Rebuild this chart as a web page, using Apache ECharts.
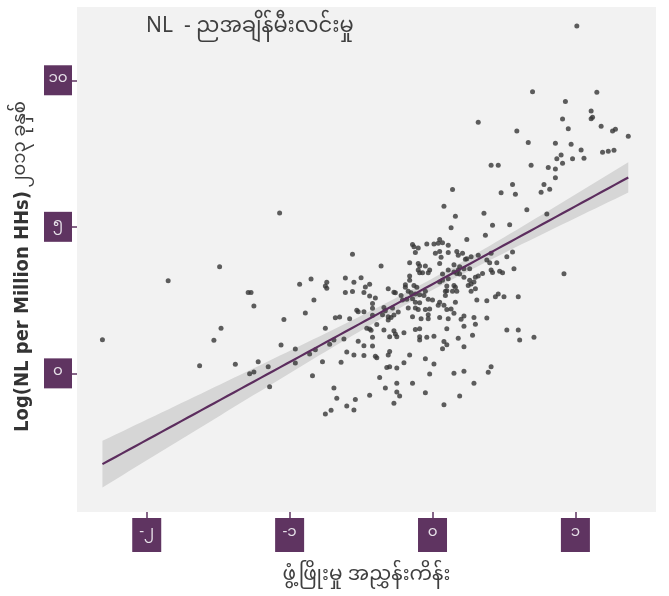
<!DOCTYPE html>
<html>
<head>
<meta charset="utf-8">
<script src="https://cdn.jsdelivr.net/npm/echarts@6/dist/echarts.min.js"></script>
<style>
  html, body { margin: 0; padding: 0; background: #ffffff; }
  #chart { width: 669px; height: 596px; }
</style>
</head>
<body>
<div id="chart"></div>
<script>
// Development index (x) for each township
const developmentIndex = [
  -1.07,-0.56,-1.49,-1.85,-1.29,-1.27,-1.25,-2.31,-1.48,-1.53,
  -1.63,-1.38,-1.22,-1.28,-1.25,-1.15,-1.14,-1.06,-1.04,-0.93,
  -0.85,-0.74,-0.75,-0.74,-0.83,-0.89,-0.96,-0.96,-0.86,-0.82,
  -0.84,-0.77,-0.75,-0.72,-0.69,-0.68,-0.65,-0.61,-0.55,-0.50,
  -0.47,-0.44,-0.61,-0.56,-0.48,-0.44,-0.58,-0.53,-0.52,-0.48,
  -0.46,-0.44,-0.43,-0.62,-0.52,-0.48,-0.60,-0.55,-0.48,-0.64,
  -0.69,-0.67,-0.54,-0.60,-0.55,-0.71,-0.75,-0.44,-0.42,-0.42,
  -0.42,-0.39,-0.42,-0.42,-0.40,-0.39,-0.37,-0.40,
  -0.14,-0.13,-0.10,-0.12,-0.04,0.01,0.05,0.07,0.04,0.11,
  0.02,0.05,0.06,0.11,0.05,-0.16,-0.36,-0.10,-0.09,-0.05,
  -0.09,-0.07,-0.10,-0.02,-0.03,0.07,0.11,-0.16,-0.16,0.05,
  0.07,0.11,0.10,-0.19,-0.19,-0.13,-0.11,-0.31,-0.27,-0.26,
  -0.22,-0.17,-0.15,-0.12,-0.09,-0.06,-0.05,0.09,0.10,0.09,
  -0.21,-0.18,-0.14,-0.12,-0.09,-0.03,0.00,0.05,0.08,-0.34,
  -0.33,-0.28,-0.24,-0.17,-0.12,-0.10,-0.05,-0.02,0.04,
  0.10,-0.31,-0.29,-0.35,-0.14,-0.08,-0.03,0.05,0.11,-0.27,
  -0.31,-0.03,-0.34,-0.27,-0.26,-0.25,-0.30,-0.20,-0.12,-0.09,
  -0.09,-0.09,-0.04,0.01,0.10,0.08,0.10,0.07,-0.30,-0.31,
  -0.16,-0.05,-0.20,0.01,-0.32,-0.30,-0.25,-0.02,-0.25,-0.14,
  -0.33,-0.25,-0.23,-0.05,-0.27,0.08,
  0.42,0.54,0.37,0.24,0.13,0.17,0.18,0.21,
  0.23,0.24,0.27,0.32,0.41,0.56,0.52,0.38,0.40,0.45,
  0.15,0.19,0.22,0.18,0.26,0.15,0.17,0.19,0.41,0.42,
  0.47,0.49,0.57,0.35,0.32,0.30,0.22,0.26,0.27,0.25,
  0.29,0.15,0.16,0.30,0.27,0.14,0.17,0.16,0.31,0.38,
  0.44,0.46,0.50,0.60,0.13,0.15,0.22,0.20,0.29,0.38,
  0.22,0.30,0.18,0.28,0.22,0.52,0.60,0.61,0.71,0.15,
  0.22,0.41,0.39,0.29,0.19,
  1.01,0.70,1.15,0.93,1.11,1.12,1.11,0.91,0.32,0.59,
  0.95,1.18,1.26,1.28,1.37,0.67,0.86,0.97,1.04,1.19,
  1.23,1.27,0.90,0.87,0.98,1.06,0.91,0.41,0.46,0.69,
  0.81,0.86,0.86,0.56,0.78,0.48,0.58,0.76,0.82,0.66,
  0.36,0.80,0.92,0.14,0.08,0.16
];

// Log of night-light count per million households, 2013
const logNightLights = [
  5.47,4.06,3.64,3.16,2.76,2.76,2.30,1.15,1.54,1.13,
  0.26,0.31,0.40,-0.01,0.05,0.23,-0.46,0.97,1.84,3.04,
  3.22,3.11,2.98,2.90,2.50,2.06,0.83,0.35,0.66,0.81,
  -0.08,0.40,1.54,0.99,1.14,1.90,1.92,3.25,3.11,3.26,
  2.95,3.04,2.76,2.79,2.76,2.64,1.86,2.15,2.10,2.10,
  1.54,1.51,1.47,1.17,1.10,0.94,0.73,0.63,0.61,0.38,
  -0.50,-0.85,-0.89,-1.11,-1.25,-1.26,-1.39,-0.75,2.38,2.22,
  1.98,1.67,1.23,0.93,0.58,0.53,-0.14,2.57,
  4.40,4.32,4.28,4.12,4.41,4.41,4.57,4.46,4.44,4.37,
  4.10,4.16,3.96,4.12,3.75,3.77,3.66,3.75,3.66,3.66,
  3.43,3.43,3.53,3.53,3.43,3.39,3.53,3.32,3.18,3.12,
  3.18,3.23,2.98,3.02,2.94,3.00,2.94,2.89,2.77,2.75,
  2.66,2.80,2.75,2.71,2.68,2.66,2.80,2.80,2.82,2.66,
  2.50,2.53,2.55,2.43,2.41,2.53,2.50,2.43,2.32,2.25,
  2.14,2.23,2.09,2.23,2.23,2.18,2.18,2.20,2.32,
  2.18,1.93,1.91,2.00,1.93,1.86,1.86,1.91,1.86,1.99,
  1.82,2.00,1.48,1.45,1.34,1.25,1.25,1.39,1.50,1.52,
  1.25,1.14,1.23,1.27,1.52,1.09,0.98,0.84,0.75,0.63,
  0.63,0.50,0.36,0.32,0.20,0.23,0.18,-0.02,-0.34,-0.34,
  -0.50,-0.64,-0.77,-0.66,-1.02,-1.07,
  5.05,5.07,4.71,4.57,4.97,4.16,4.03,4.10,
  3.89,3.91,3.98,4.03,4.10,4.14,3.98,3.87,3.77,3.77,
  3.71,3.64,3.57,3.53,3.57,3.46,3.41,3.39,3.53,3.44,
  3.48,3.43,3.57,3.41,3.32,3.28,3.28,3.18,3.05,3.00,
  3.12,3.00,2.94,2.89,2.80,2.80,2.80,2.43,2.50,2.48,
  2.61,2.71,2.61,2.61,2.20,2.05,1.96,1.85,1.91,1.89,
  1.61,1.68,1.20,1.30,0.91,1.48,1.48,1.14,1.23,0.00,
  0.07,0.23,0.04,-0.34,-0.77,
  11.85,9.61,9.59,9.28,8.95,8.74,8.69,8.68,8.57,8.27,
  8.35,8.43,8.27,8.33,8.09,7.88,7.85,7.82,7.62,7.54,
  7.58,7.61,7.45,7.32,7.32,7.34,7.17,7.10,7.10,7.10,
  7.02,6.97,6.67,6.44,6.44,6.16,6.11,6.18,6.28,5.58,
  5.46,5.44,3.40,6.27,5.70,5.36
];

// Axis ticks and their Myanmar-digit labels
const xTickValues = [-2, -1, 0, 1];
const xTickLabels = ['-၂', '-၁', '၀', '၁'];
const yTickValues = [0, 5, 10];
const yTickLabels = ['၀', '၅', '၁၀'];

const titleText = 'NL  - ညအချိန်မီးလင်းမှု';
const xAxisTitle = 'ဖွံ့ဖြိုးမှု အညွှန်းကိန်း';
const yAxisTitleLatin = 'Log(NL per Million HHs)';
const yAxisTitleMy = '၂၀၁၃ ခုနှစ်';

const PURPLE = '#5f3461';
const MY_FONT = '"Noto Sans Myanmar","Padauk","Myanmar Text","Noto Sans",sans-serif';

// Ordinary least-squares fit with a 95% confidence band (as geom_smooth(method = "lm"))
function linearFit(xs, ys, steps) {
  const n = xs.length;
  let mx = 0, my = 0;
  for (let i = 0; i < n; i++) { mx += xs[i]; my += ys[i]; }
  mx /= n; my /= n;
  let sxx = 0, sxy = 0;
  for (let i = 0; i < n; i++) { sxx += (xs[i] - mx) ** 2; sxy += (xs[i] - mx) * (ys[i] - my); }
  const slope = sxy / sxx;
  const icpt = my - slope * mx;
  let sse = 0;
  for (let i = 0; i < n; i++) { sse += (ys[i] - icpt - slope * xs[i]) ** 2; }
  const s = Math.sqrt(sse / (n - 2));
  const t = 1.968;
  const lo = Math.min(...xs), hi = Math.max(...xs);
  const line = [], upper = [], lower = [];
  for (let k = 0; k <= steps; k++) {
    const x = lo + (hi - lo) * k / steps;
    const yhat = icpt + slope * x;
    const se = s * Math.sqrt(1 / n + (x - mx) ** 2 / sxx);
    line.push([x, yhat]);
    upper.push([x, yhat + t * se]);
    lower.push([x, yhat - t * se]);
  }
  return { line, upper, lower };
}

const fit = linearFit(developmentIndex, logNightLights, 80);
const points = developmentIndex.map((x, i) => [x, logNightLights[i]]);

const labelBox = {
  backgroundColor: PURPLE,
  color: '#e6e0e8',
  fontSize: 15,
  fontFamily: MY_FONT,
  lineHeight: 17,
  height: 17,
  align: 'center'
};

const chart = echarts.init(document.getElementById('chart'), null, { renderer: 'canvas' });
chart.setOption({
  animation: false,
  backgroundColor: '#ffffff',
  title: {
    text: titleText,
    left: 141,
    top: 14,
    textStyle: { fontFamily: MY_FONT, fontSize: 21, fontWeight: 'normal', color: '#3f3f3f' }
  },
  grid: {
    left: 77, right: 13, top: 7, bottom: 84,
    show: true, backgroundColor: '#f2f2f2', borderWidth: 0
  },
  xAxis: {
    type: 'value',
    min: -2.488, max: 1.564,
    axisLine: { show: false, onZero: false },
    splitLine: { show: false },
    axisTick: { show: true, length: 6, customValues: xTickValues, lineStyle: { color: PURPLE, width: 1.5 } },
    axisLabel: Object.assign({}, labelBox, {
      customValues: xTickValues,
      margin: 6,
      width: 29,
      padding: [8, 0, 9, 0],
      formatter: v => xTickLabels[xTickValues.indexOf(Math.round(v))]
    }),
    name: xAxisTitle,
    nameLocation: 'middle',
    nameGap: 56,
    nameTextStyle: { fontFamily: MY_FONT, fontSize: 20, color: '#3f3f3f' }
  },
  yAxis: {
    type: 'value',
    min: -4.73, max: 12.5,
    axisLine: { show: false, onZero: false },
    splitLine: { show: false },
    axisTick: { show: true, length: 5, customValues: yTickValues, lineStyle: { color: PURPLE, width: 1.5 } },
    axisLabel: Object.assign({}, labelBox, {
      customValues: yTickValues,
      margin: 19,
      width: 28,
      padding: [7, 0, 6, 0],
      formatter: v => yTickLabels[yTickValues.indexOf(Math.round(v))]
    }),
    name: '{a|' + yAxisTitleLatin + '} {b|' + yAxisTitleMy + '}',
    nameLocation: 'middle',
    nameGap: 43,
    nameTextStyle: {
      padding: [0, 14, 0, 0],
      rich: {
        a: { fontFamily: '"DejaVu Sans Condensed","DejaVu Sans",sans-serif', fontWeight: 'bold', fontSize: 20, color: '#333333' },
        b: { fontFamily: MY_FONT, fontSize: 18, color: '#3f3f3f' }
      }
    }
  },
  series: [
    {
      // confidence band
      type: 'custom',
      data: [0],
      z: 1,
      silent: true,
      renderItem: (params, api) => {
        const up = fit.upper.map(p => api.coord(p));
        const dn = fit.lower.slice().reverse().map(p => api.coord(p));
        return { type: 'polygon', shape: { points: up.concat(dn) }, style: { fill: '#d6d6d6' } };
      }
    },
    {
      type: 'scatter',
      data: points,
      z: 2,
      symbolSize: 5,
      itemStyle: { color: '#363636' }
    },
    {
      type: 'line',
      data: fit.line,
      z: 3,
      showSymbol: false,
      lineStyle: { color: '#5c2d5e', width: 2.2 }
    }
  ]
});
</script>
</body>
</html>
